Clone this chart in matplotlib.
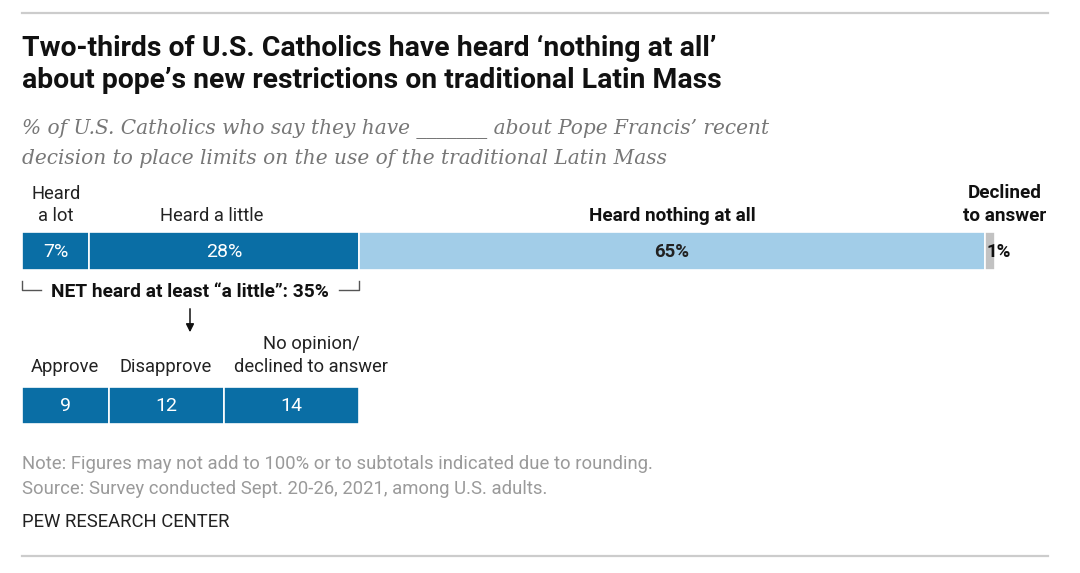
import matplotlib
matplotlib.use("Agg")
from matplotlib import pyplot as plt

# data
top_labels = ["Heard a lot", "Heard a little", "Heard nothing at all", "Declined to answer"]
top_values = [7, 28, 65, 1]
top_colors = ["#0a6ea5", "#0a6ea5", "#a2cde8", "#c2c2c2"]

net_value = 35

sub_labels = ["Approve", "Disapprove", "No opinion/\ndeclined to answer"]
sub_values = [9, 12, 14]

W, H = 1080, 573
X0 = 22          # left edge of bars, px
PX = 9.63        # px per percentage point

fig = plt.figure(figsize=(W / 100, H / 100), dpi=100)
ax = fig.add_axes([0, 0, 1, 1])
ax.set_xlim(-X0 / PX, (W - X0) / PX)
ax.set_ylim(H, 0)
ax.axis("off")

FONT = "Roboto"
FS = 13.2     # body text
FB = 13.6     # bold labels


def px(v):
    # percent value -> pixel x
    return X0 + v * PX


def txt(x, y, s, size=FS, color="#222222", weight="normal", ha="center", **kw):
    fig.text(x / W, 1 - y / H, s, fontsize=size, color=color, weight=weight,
             ha=ha, va="center", family=FONT, **kw)


# rules
ax.plot([0, (1048 - X0) / PX], [13, 13], color="#cccccc", lw=1.6)
ax.plot([0, (1048 - X0) / PX], [556, 556], color="#cccccc", lw=1.6)

# title / subtitle
txt(X0, 48, "Two-thirds of U.S. Catholics have heard \u2018nothing at all\u2019",
    size=20.4, color="#111111", weight="bold", ha="left")
txt(X0, 80, "about pope\u2019s new restrictions on traditional Latin Mass",
    size=20.4, color="#111111", weight="bold", ha="left")
fig.text(X0 / W, 1 - 129 / H,
         "% of U.S. Catholics who say they have _______ about Pope Francis\u2019 recent",
         fontsize=14.5, color="#777777", style="italic", family="DejaVu Serif",
         ha="left", va="center")
fig.text(X0 / W, 1 - 158 / H,
         "decision to place limits on the use of the traditional Latin Mass",
         fontsize=14.5, color="#777777", style="italic", family="DejaVu Serif",
         ha="left", va="center")

# top stacked bar
left = 0
centers = []
for v, c in zip(top_values, top_colors):
    ax.barh(251, v, left=left, height=38, color=c, edgecolor="white", linewidth=1.2)
    centers.append(left + v / 2)
    left += v

txt(px(centers[0]), 252, f"{top_values[0]}%", size=14, color="white")
txt(px(centers[1]), 252, f"{top_values[1]}%", size=14, color="white")
txt(px(centers[2]), 252, f"{top_values[2]}%", size=13.4, color="#222222", weight="bold")
txt(px(sum(top_values[:3])) + 1, 252, f"{top_values[3]}%", size=13.4,
    color="#111111", weight="bold", ha="left")

txt(px(centers[0]), 194, "Heard")
txt(px(centers[0]), 216, "a lot")
txt(px(centers[1]) - 13, 216, top_labels[1])
txt(px(centers[2]), 216, top_labels[2], size=FB, weight="bold", color="#111111")
txt(1005, 193, "Declined", size=FB, weight="bold", color="#111111")
txt(1005, 216, "to answer", size=FB, weight="bold", color="#111111")

# NET bracket
bc = "#555555"
ax.plot([0, 0, 19 / PX], [281, 290, 290], color=bc, lw=1)
ax.plot([net_value - 20 / PX, net_value, net_value], [290, 290, 281], color=bc, lw=1)
txt(190, 292, f"NET heard at least \u201ca little\u201d: {net_value}%", size=FB + 0.2,
    weight="bold", color="#111111")
ax.annotate("", xy=((190 - X0) / PX, 335), xytext=((190 - X0) / PX, 306),
            arrowprops=dict(arrowstyle="-|>", color="#111111", lw=1.1,
                            mutation_scale=12))

# sub bar
left = 0
for lab, v in zip(sub_labels, sub_values):
    ax.barh(405, v, left=left, height=37, color="#0a6ea5", edgecolor="white",
            linewidth=1.2)
    txt(px(left + v / 2), 406, str(v), size=14, color="white")
    left += v

txt(65, 367, sub_labels[0])
txt(166, 367, sub_labels[1])
txt(311, 344, "No opinion/")
txt(311, 367, "declined to answer")

# notes
txt(X0, 464, "Note: Figures may not add to 100% or to subtotals indicated due to rounding.",
    size=13.3, color="#9a9a9a", ha="left")
txt(X0, 489, "Source: Survey conducted Sept. 20-26, 2021, among U.S. adults.",
    size=13.3, color="#9a9a9a", ha="left")
txt(X0, 522, "PEW RESEARCH CENTER", size=13.3, color="#222222", ha="left")

fig.savefig("out.png", dpi=100)
